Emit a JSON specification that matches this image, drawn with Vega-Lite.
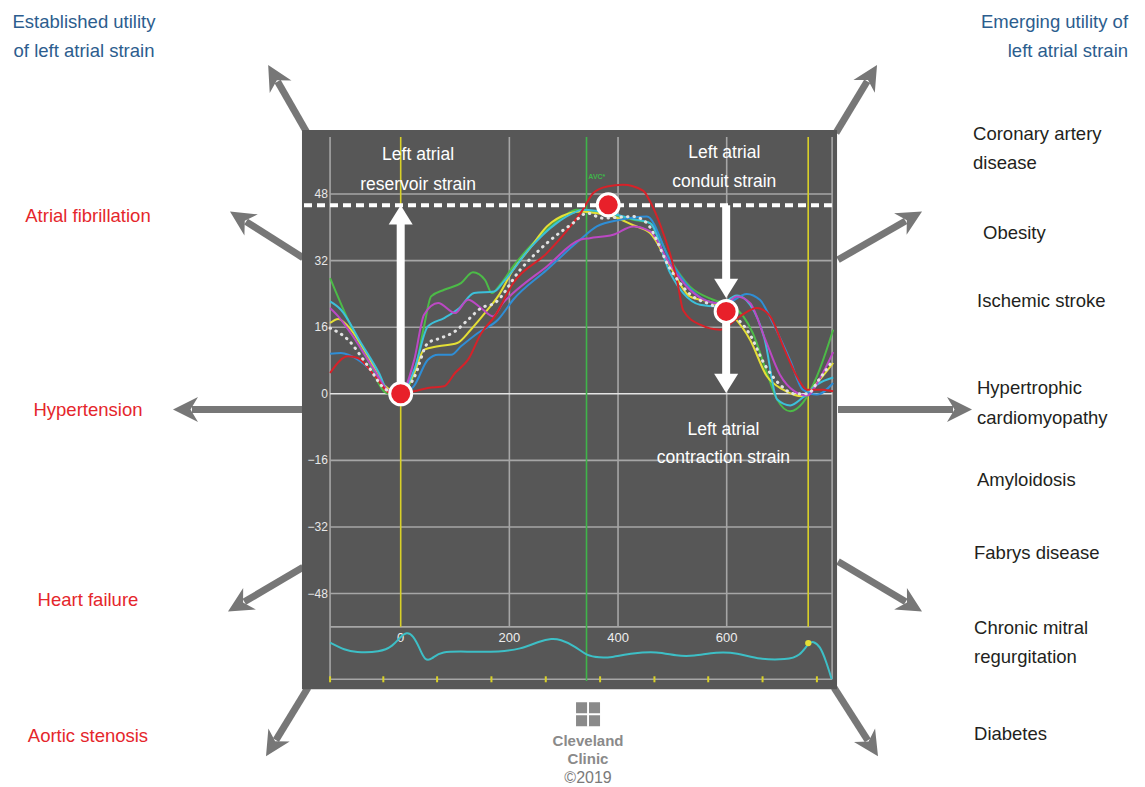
{
  "$schema": "https://vega.github.io/schema/vega-lite/v6.json",
  "width": 1145,
  "height": 787,
  "autosize": {"type": "fit", "contains": "padding"},
  "padding": 0,
  "background": "white",
  "config": {"view": {"stroke": null}},
  "resolve": {"scale": {"color": "independent"}},
  "datasets": {
    "panel": [{"x": -181.7, "x2": 803.1, "y": 63.4, "y2": -71.0}],
    "grid": [
      {"x": -130, "x2": 794, "y": 48, "y2": 48, "k": "g"},
      {"x": -130, "x2": 794, "y": 32, "y2": 32, "k": "g"},
      {"x": -130, "x2": 794, "y": 16, "y2": 16, "k": "g"},
      {"x": -130, "x2": 794, "y": -16, "y2": -16, "k": "g"},
      {"x": -130, "x2": 794, "y": -32, "y2": -32, "k": "g"},
      {"x": -130, "x2": 794, "y": -48, "y2": -48, "k": "g"},
      {"x": -130, "x2": 794, "y": -56, "y2": -56, "k": "g"},
      {"x": -130, "x2": 794, "y": -68.6, "y2": -68.6, "k": "g"},
      {"x": -130, "x2": -130, "y": 61.7, "y2": -68.6, "k": "g"},
      {"x": 200, "x2": 200, "y": 61.7, "y2": -56, "k": "g"},
      {"x": 400, "x2": 400, "y": 61.7, "y2": -56, "k": "g"},
      {"x": 600, "x2": 600, "y": 61.7, "y2": -56, "k": "g"},
      {"x": 794, "x2": 794, "y": 61.7, "y2": -68.6, "k": "g"},
      {"x": -130, "x2": 794, "y": 0, "y2": 0, "k": "z"},
      {"x": 0, "x2": 0, "y": 61.7, "y2": -56, "k": "yl"},
      {"x": 750, "x2": 750, "y": 61.7, "y2": -56, "k": "yl"},
      {"x": 342, "x2": 342, "y": 61.7, "y2": -69.0, "k": "gr"}
    ],
    "ylab": [
      {"x": -134, "y": 48, "t": "48"},
      {"x": -134, "y": 32, "t": "32"},
      {"x": -134, "y": 16, "t": "16"},
      {"x": -134, "y": 0, "t": "0"},
      {"x": -134, "y": -16, "t": "−16"},
      {"x": -134, "y": -32, "t": "−32"},
      {"x": -134, "y": -48, "t": "−48"}
    ],
    "xlab": [
      {"x": 0, "y": -58.7, "t": "0"},
      {"x": 200, "y": -58.7, "t": "200"},
      {"x": 400, "y": -58.7, "t": "400"},
      {"x": 600, "y": -58.7, "t": "600"}
    ],
    "curves": [
      {"s": "green", "x": -130, "y": 27.8}, {"s": "green", "x": -97, "y": 17.8}, {"s": "green", "x": -60, "y": 8}, {"s": "green", "x": -29, "y": 0.4}, {"s": "green", "x": -12, "y": -0.3}, {"s": "green", "x": 0, "y": 0}, {"s": "green", "x": 25, "y": 5}, {"s": "green", "x": 43, "y": 16.2}, {"s": "green", "x": 56, "y": 23.4}, {"s": "green", "x": 80, "y": 25}, {"s": "green", "x": 111, "y": 26.6}, {"s": "green", "x": 133, "y": 29.2}, {"s": "green", "x": 155, "y": 27.4}, {"s": "green", "x": 168, "y": 24.2}, {"s": "green", "x": 183, "y": 26.2}, {"s": "green", "x": 207, "y": 30.6}, {"s": "green", "x": 238, "y": 35.4}, {"s": "green", "x": 269, "y": 39.4}, {"s": "green", "x": 299, "y": 42.6}, {"s": "green", "x": 324, "y": 44.2}, {"s": "green", "x": 343, "y": 43.8}, {"s": "green", "x": 365, "y": 43.5}, {"s": "green", "x": 391, "y": 43}, {"s": "green", "x": 428, "y": 41.8}, {"s": "green", "x": 459, "y": 41}, {"s": "green", "x": 496, "y": 32.2}, {"s": "green", "x": 532, "y": 25.8}, {"s": "green", "x": 575, "y": 22.6}, {"s": "green", "x": 612, "y": 21}, {"s": "green", "x": 648, "y": 14.6}, {"s": "green", "x": 674, "y": 5}, {"s": "green", "x": 693, "y": -1.4}, {"s": "green", "x": 717, "y": -4.2}, {"s": "green", "x": 740, "y": -2.2}, {"s": "green", "x": 766, "y": 4.2}, {"s": "green", "x": 796, "y": 15.4},
      {"s": "yellow", "x": -130, "y": 17}, {"s": "yellow", "x": -115, "y": 18}, {"s": "yellow", "x": -97, "y": 16.2}, {"s": "yellow", "x": -60, "y": 9}, {"s": "yellow", "x": -30, "y": 2}, {"s": "yellow", "x": -10, "y": 0.3}, {"s": "yellow", "x": 0, "y": 0}, {"s": "yellow", "x": 25, "y": 5}, {"s": "yellow", "x": 43, "y": 10.6}, {"s": "yellow", "x": 69, "y": 11.4}, {"s": "yellow", "x": 104, "y": 12.2}, {"s": "yellow", "x": 129, "y": 15.4}, {"s": "yellow", "x": 160, "y": 20.2}, {"s": "yellow", "x": 179, "y": 23.4}, {"s": "yellow", "x": 207, "y": 29.8}, {"s": "yellow", "x": 238, "y": 35}, {"s": "yellow", "x": 269, "y": 40.2}, {"s": "yellow", "x": 311, "y": 43.4}, {"s": "yellow", "x": 330, "y": 43.8}, {"s": "yellow", "x": 365, "y": 43.3}, {"s": "yellow", "x": 391, "y": 42.6}, {"s": "yellow", "x": 428, "y": 40.5}, {"s": "yellow", "x": 459, "y": 38.6}, {"s": "yellow", "x": 496, "y": 30.6}, {"s": "yellow", "x": 532, "y": 23.4}, {"s": "yellow", "x": 575, "y": 21.8}, {"s": "yellow", "x": 612, "y": 18.6}, {"s": "yellow", "x": 643, "y": 13}, {"s": "yellow", "x": 674, "y": 4.2}, {"s": "yellow", "x": 704, "y": 1}, {"s": "yellow", "x": 740, "y": -0.6}, {"s": "yellow", "x": 766, "y": 2.6}, {"s": "yellow", "x": 796, "y": 7.4},
      {"s": "cyan", "x": -130, "y": 22.2}, {"s": "cyan", "x": -110, "y": 20.2}, {"s": "cyan", "x": -73, "y": 12.2}, {"s": "cyan", "x": -40, "y": 5}, {"s": "cyan", "x": -23, "y": 0.6}, {"s": "cyan", "x": 0, "y": 0}, {"s": "cyan", "x": 25, "y": 5.8}, {"s": "cyan", "x": 50, "y": 16.2}, {"s": "cyan", "x": 80, "y": 18.2}, {"s": "cyan", "x": 107, "y": 20.5}, {"s": "cyan", "x": 135, "y": 24.2}, {"s": "cyan", "x": 172, "y": 24.6}, {"s": "cyan", "x": 190, "y": 27}, {"s": "cyan", "x": 238, "y": 35}, {"s": "cyan", "x": 287, "y": 41}, {"s": "cyan", "x": 317, "y": 43.4}, {"s": "cyan", "x": 335, "y": 44.2}, {"s": "cyan", "x": 391, "y": 43.2}, {"s": "cyan", "x": 428, "y": 42}, {"s": "cyan", "x": 459, "y": 41}, {"s": "cyan", "x": 496, "y": 29}, {"s": "cyan", "x": 520, "y": 24.2}, {"s": "cyan", "x": 551, "y": 21.4}, {"s": "cyan", "x": 582, "y": 21}, {"s": "cyan", "x": 619, "y": 23.6}, {"s": "cyan", "x": 643, "y": 21.4}, {"s": "cyan", "x": 670, "y": 13}, {"s": "cyan", "x": 693, "y": -1.4}, {"s": "cyan", "x": 717, "y": -2.8}, {"s": "cyan", "x": 740, "y": -0.9}, {"s": "cyan", "x": 766, "y": 2.2}, {"s": "cyan", "x": 796, "y": 3.9},
      {"s": "blue", "x": -130, "y": 9.6}, {"s": "blue", "x": -110, "y": 9.8}, {"s": "blue", "x": -79, "y": 8.2}, {"s": "blue", "x": -47, "y": 4.5}, {"s": "blue", "x": -27, "y": 1}, {"s": "blue", "x": 0, "y": 0}, {"s": "blue", "x": 24, "y": 1.8}, {"s": "blue", "x": 50, "y": 8.2}, {"s": "blue", "x": 69, "y": 9.4}, {"s": "blue", "x": 93, "y": 9.4}, {"s": "blue", "x": 111, "y": 11.4}, {"s": "blue", "x": 142, "y": 14.6}, {"s": "blue", "x": 179, "y": 17.8}, {"s": "blue", "x": 207, "y": 22.6}, {"s": "blue", "x": 269, "y": 29.8}, {"s": "blue", "x": 330, "y": 37}, {"s": "blue", "x": 361, "y": 40.2}, {"s": "blue", "x": 404, "y": 41.8}, {"s": "blue", "x": 453, "y": 42.6}, {"s": "blue", "x": 496, "y": 32}, {"s": "blue", "x": 532, "y": 25.4}, {"s": "blue", "x": 571, "y": 22}, {"s": "blue", "x": 597, "y": 21.6}, {"s": "blue", "x": 637, "y": 24}, {"s": "blue", "x": 661, "y": 22.6}, {"s": "blue", "x": 685, "y": 17}, {"s": "blue", "x": 717, "y": 8}, {"s": "blue", "x": 740, "y": 1}, {"s": "blue", "x": 766, "y": -0.2}, {"s": "blue", "x": 796, "y": 2.6},
      {"s": "magenta", "x": -130, "y": 20.6}, {"s": "magenta", "x": -115, "y": 18.6}, {"s": "magenta", "x": -92, "y": 14.6}, {"s": "magenta", "x": -50, "y": 6}, {"s": "magenta", "x": -23, "y": 0.8}, {"s": "magenta", "x": 0, "y": 0}, {"s": "magenta", "x": 25, "y": 8.2}, {"s": "magenta", "x": 43, "y": 19}, {"s": "magenta", "x": 69, "y": 21.8}, {"s": "magenta", "x": 100, "y": 19.4}, {"s": "magenta", "x": 124, "y": 22.6}, {"s": "magenta", "x": 148, "y": 20.6}, {"s": "magenta", "x": 170, "y": 18.6}, {"s": "magenta", "x": 188, "y": 21.8}, {"s": "magenta", "x": 207, "y": 24.2}, {"s": "magenta", "x": 269, "y": 30.6}, {"s": "magenta", "x": 330, "y": 37}, {"s": "magenta", "x": 348, "y": 37.4}, {"s": "magenta", "x": 391, "y": 38.2}, {"s": "magenta", "x": 428, "y": 40.2}, {"s": "magenta", "x": 459, "y": 39}, {"s": "magenta", "x": 496, "y": 31}, {"s": "magenta", "x": 532, "y": 25}, {"s": "magenta", "x": 571, "y": 22}, {"s": "magenta", "x": 597, "y": 21.6}, {"s": "magenta", "x": 619, "y": 23.4}, {"s": "magenta", "x": 643, "y": 21.8}, {"s": "magenta", "x": 670, "y": 13.4}, {"s": "magenta", "x": 698, "y": 4.6}, {"s": "magenta", "x": 725, "y": 0.6}, {"s": "magenta", "x": 748, "y": -0.4}, {"s": "magenta", "x": 772, "y": 3.8}, {"s": "magenta", "x": 796, "y": 10},
      {"s": "red", "x": -130, "y": 5}, {"s": "red", "x": -97, "y": 9}, {"s": "red", "x": -79, "y": 8.6}, {"s": "red", "x": -47, "y": 4.2}, {"s": "red", "x": -20, "y": 0.2}, {"s": "red", "x": 0, "y": 0}, {"s": "red", "x": 25, "y": 0.6}, {"s": "red", "x": 50, "y": 1.4}, {"s": "red", "x": 80, "y": 1.8}, {"s": "red", "x": 100, "y": 5}, {"s": "red", "x": 124, "y": 8.2}, {"s": "red", "x": 148, "y": 14.5}, {"s": "red", "x": 173, "y": 18.6}, {"s": "red", "x": 207, "y": 26.6}, {"s": "red", "x": 269, "y": 33.8}, {"s": "red", "x": 317, "y": 41}, {"s": "red", "x": 335, "y": 44.2}, {"s": "red", "x": 354, "y": 48.2}, {"s": "red", "x": 380, "y": 49.8}, {"s": "red", "x": 409, "y": 50.2}, {"s": "red", "x": 446, "y": 48.8}, {"s": "red", "x": 459, "y": 46.2}, {"s": "red", "x": 478, "y": 40.5}, {"s": "red", "x": 496, "y": 33.5}, {"s": "red", "x": 509, "y": 27}, {"s": "red", "x": 520, "y": 20}, {"s": "red", "x": 551, "y": 16.6}, {"s": "red", "x": 588, "y": 15.4}, {"s": "red", "x": 624, "y": 18.6}, {"s": "red", "x": 656, "y": 20.6}, {"s": "red", "x": 680, "y": 18.6}, {"s": "red", "x": 704, "y": 11.4}, {"s": "red", "x": 729, "y": 4.2}, {"s": "red", "x": 748, "y": 1}, {"s": "red", "x": 777, "y": 1}, {"s": "red", "x": 796, "y": 0.6}
    ],
    "mean": [
      {"x": -130, "y": 15.8}, {"x": -97, "y": 13}, {"x": -60, "y": 6.6}, {"x": -27, "y": 1}, {"x": 0, "y": 0}, {"x": 25, "y": 4}, {"x": 50, "y": 12.2}, {"x": 74, "y": 13.4}, {"x": 100, "y": 15}, {"x": 124, "y": 17.8}, {"x": 148, "y": 20.6}, {"x": 173, "y": 21.8}, {"x": 220, "y": 29.8}, {"x": 269, "y": 36.2}, {"x": 317, "y": 41}, {"x": 343, "y": 43.4}, {"x": 372, "y": 42.2}, {"x": 428, "y": 42.6}, {"x": 453, "y": 41}, {"x": 496, "y": 30}, {"x": 532, "y": 24}, {"x": 571, "y": 21.4}, {"x": 611, "y": 19}, {"x": 643, "y": 14.2}, {"x": 670, "y": 7}, {"x": 698, "y": 2.2}, {"x": 725, "y": 0}, {"x": 748, "y": 0}, {"x": 772, "y": 3.8}, {"x": 796, "y": 8.2}
    ],
    "ecg": [
      {"x": -130.1, "y": -59.8}, {"x": -102.5, "y": -61.6}, {"x": -84.1, "y": -62.1}, {"x": -38.1, "y": -62.1}, {"x": -14.2, "y": -60.6}, {"x": -1.3, "y": -58.5}, {"x": 11, "y": -57.2}, {"x": 22.6, "y": -58}, {"x": 35.5, "y": -61.3}, {"x": 44.7, "y": -64.2}, {"x": 57.6, "y": -63.8}, {"x": 72.3, "y": -61.8}, {"x": 127.6, "y": -62}, {"x": 182.8, "y": -62}, {"x": 219.6, "y": -61.4}, {"x": 256.4, "y": -59.4}, {"x": 277.9, "y": -58.8}, {"x": 293.2, "y": -59}, {"x": 320.8, "y": -60.6}, {"x": 342.4, "y": -63}, {"x": 366.8, "y": -63.4}, {"x": 385.2, "y": -63.4}, {"x": 427.6, "y": -62.3}, {"x": 471.2, "y": -61.9}, {"x": 508, "y": -63}, {"x": 538, "y": -63.1}, {"x": 581.6, "y": -62}, {"x": 618.4, "y": -62.2}, {"x": 661.3, "y": -63.9}, {"x": 710.5, "y": -63.9}, {"x": 734.9, "y": -63}, {"x": 750.2, "y": -59.9}, {"x": 759.4, "y": -59.4}, {"x": 771.8, "y": -60.6}, {"x": 782.8, "y": -64.2}, {"x": 793.3, "y": -68.6}
    ],
    "ecgTicks": [
      {"x": -130, "y": -68.6}, {"x": -32, "y": -68.6}, {"x": 67, "y": -68.6}, {"x": 167, "y": -68.6}, {"x": 267, "y": -68.6}, {"x": 367, "y": -68.6}, {"x": 467, "y": -68.6}, {"x": 566, "y": -68.6}, {"x": 666, "y": -68.6}, {"x": 766, "y": -68.6}
    ],
    "dashed": [{"x": -178, "x2": 803, "y": 45.3}],
    "grayArrows": [
      {"x": -243.9, "y": 79.0, "x2": -172.5, "y2": 62.7},
      {"x": -314.2, "y": 43.8, "x2": -179.8, "y2": 32.7},
      {"x": -419.1, "y": -3.8, "x2": -179.8, "y2": -3.8},
      {"x": -317.9, "y": -52.3, "x2": -179.8, "y2": -41.7},
      {"x": -247.9, "y": -87.1, "x2": -170.6, "y2": -70.6},
      {"x": 876.7, "y": 79.0, "x2": 801.2, "y2": 62.7},
      {"x": 959.5, "y": 43.8, "x2": 804.9, "y2": 32.2},
      {"x": 1051.5, "y": -3.8, "x2": 804.9, "y2": -3.8},
      {"x": 959.5, "y": -52.3, "x2": 804.9, "y2": -40.3},
      {"x": 878.5, "y": -87.1, "x2": 797.6, "y2": -70.6}
    ],
    "whiteArrows": [
      {"x": 0, "y": 45.3, "x2": 0, "y2": 0},
      {"x": 599, "y": 23.0, "x2": 599, "y2": 45.3},
      {"x": 599, "y": 0.2, "x2": 599, "y2": 19.8}
    ],
    "circles": [{"x": 0, "y": 0}, {"x": 382, "y": 45.4}, {"x": 599, "y": 19.8}],
    "panelText": [
      {"x": 32, "y": 57.3, "t": "Left atrial"},
      {"x": 32, "y": 50.2, "t": "reservoir strain"},
      {"x": 595.6, "y": 57.8, "t": "Left atrial"},
      {"x": 595.6, "y": 51.0, "t": "conduit strain"},
      {"x": 594, "y": -8.6, "t": "Left atrial"},
      {"x": 594, "y": -15.4, "t": "contraction strain"}
    ],
    "outerCenter": [
      {"x": -582.9, "y": 89.4, "t": "Established utility", "c": "b"},
      {"x": -582.9, "y": 82.4, "t": "of left atrial strain", "c": "b"},
      {"x": -575.6, "y": 42.8, "t": "Atrial fibrillation", "c": "r"},
      {"x": -575.6, "y": -3.8, "t": "Hypertension", "c": "r"},
      {"x": -575.6, "y": -49.6, "t": "Heart failure", "c": "r"},
      {"x": -575.6, "y": -82.2, "t": "Aortic stenosis", "c": "r"}
    ],
    "outerRight": [
      {"x": 1338.7, "y": 89.4, "t": "Emerging utility of"},
      {"x": 1338.7, "y": 82.4, "t": "left atrial strain"}
    ],
    "outerLeft": [
      {"x": 1053.4, "y": 62.5, "t": "Coronary artery"},
      {"x": 1053.4, "y": 55.5, "t": "disease"},
      {"x": 1071.8, "y": 38.7, "t": "Obesity"},
      {"x": 1060.7, "y": 22.2, "t": "Ischemic stroke"},
      {"x": 1060.7, "y": 1.5, "t": "Hypertrophic"},
      {"x": 1060.7, "y": -5.7, "t": "cardiomyopathy"},
      {"x": 1060.7, "y": -20.6, "t": "Amyloidosis"},
      {"x": 1055.2, "y": -38.3, "t": "Fabrys disease"},
      {"x": 1055.2, "y": -56.3, "t": "Chronic mitral"},
      {"x": 1055.2, "y": -63.3, "t": "regurgitation"},
      {"x": 1055.2, "y": -81.8, "t": "Diabetes"}
    ],
    "logo": [{"x": 344.8, "y": -77.0}],
    "logoText": [
      {"x": 344.8, "y": -83.4, "t": "Cleveland"},
      {"x": 344.8, "y": -87.8, "t": "Clinic"}
    ],
    "copy": [{"x": 344.8, "y": -92.4, "t": "©2019"}],
    "avc": [{"x": 361, "y": 52.2, "t": "AVC*"}],
    "ecgDot": [{"x": 750.2, "y": -59.9}]
  },
  "layer": [
    {
      "data": {"name": "grayArrows"},
      "transform": [
        {"calculate": "(datum.x - datum.x2) / 1.8406", "as": "dxp"},
        {"calculate": "(datum.y - datum.y2) / 0.23998", "as": "dyp"},
        {"calculate": "sqrt(datum.dxp * datum.dxp + datum.dyp * datum.dyp)", "as": "len"},
        {"calculate": "atan2(datum.dxp, datum.dyp) * 180 / PI", "as": "ang"},
        {"calculate": "datum.x - (datum.x - datum.x2) * 19 / datum.len", "as": "sx"},
        {"calculate": "datum.y - (datum.y - datum.y2) * 19 / datum.len", "as": "sy"}
      ],
      "layer": [
        {
          "mark": {"type": "rule", "color": "#777777", "strokeWidth": 7},
          "encoding": {
            "x": {"field": "sx", "type": "quantitative", "scale": {"domain": [-737.5, 1369.9], "nice": false, "zero": false}, "axis": null},
            "y": {"field": "sy", "type": "quantitative", "scale": {"domain": [-94.24, 94.62], "nice": false, "zero": false}, "axis": null},
            "x2": {"field": "x2"},
            "y2": {"field": "y2"}
          }
        },
        {
          "mark": {"type": "point", "shape": "M0,0 L1,2 L0,1.4 L-1,2 Z", "filled": true, "color": "#777777", "opacity": 1, "size": 625},
          "encoding": {
            "x": {"field": "x", "type": "quantitative", "scale": {"domain": [-737.5, 1369.9], "nice": false, "zero": false}, "axis": null},
            "y": {"field": "y", "type": "quantitative", "scale": {"domain": [-94.24, 94.62], "nice": false, "zero": false}, "axis": null},
            "angle": {"field": "ang", "type": "quantitative", "scale": null}
          }
        }
      ]
    },
    {
      "data": {"name": "panel"},
      "mark": {"type": "rect", "color": "#575757"},
      "encoding": {
        "x": {"field": "x", "type": "quantitative", "scale": {"domain": [-737.5, 1369.9], "nice": false, "zero": false}, "axis": null},
        "y": {"field": "y", "type": "quantitative", "scale": {"domain": [-94.24, 94.62], "nice": false, "zero": false}, "axis": null},
        "x2": {"field": "x2"},
        "y2": {"field": "y2"}
      }
    },
    {
      "data": {"name": "grid"},
      "mark": {"type": "rule", "strokeWidth": 1.6},
      "encoding": {
        "x": {"field": "x", "type": "quantitative", "scale": {"domain": [-737.5, 1369.9], "nice": false, "zero": false}, "axis": null},
        "y": {"field": "y", "type": "quantitative", "scale": {"domain": [-94.24, 94.62], "nice": false, "zero": false}, "axis": null},
        "x2": {"field": "x2"},
        "y2": {"field": "y2"},
        "color": {"field": "k", "type": "nominal", "scale": {"domain": ["g", "z", "yl", "gr"], "range": ["#a6a6a6", "#e4e4e4", "#d8d028", "#3fb44a"]}, "legend": null}
      }
    },
    {
      "data": {"name": "ylab"},
      "mark": {"type": "text", "align": "right", "baseline": "middle", "fontSize": 12, "font": "Liberation Sans", "color": "#e8e8e8"},
      "encoding": {
        "x": {"field": "x", "type": "quantitative", "scale": {"domain": [-737.5, 1369.9], "nice": false, "zero": false}, "axis": null},
        "y": {"field": "y", "type": "quantitative", "scale": {"domain": [-94.24, 94.62], "nice": false, "zero": false}, "axis": null},
        "text": {"field": "t"}
      }
    },
    {
      "data": {"name": "xlab"},
      "mark": {"type": "text", "align": "center", "baseline": "middle", "fontSize": 13, "font": "Liberation Sans", "color": "#eeeeee"},
      "encoding": {
        "x": {"field": "x", "type": "quantitative", "scale": {"domain": [-737.5, 1369.9], "nice": false, "zero": false}, "axis": null},
        "y": {"field": "y", "type": "quantitative", "scale": {"domain": [-94.24, 94.62], "nice": false, "zero": false}, "axis": null},
        "text": {"field": "t"}
      }
    },
    {
      "data": {"name": "avc"},
      "mark": {"type": "text", "align": "center", "baseline": "middle", "fontSize": 7, "fontWeight": "bold", "font": "Liberation Sans", "color": "#3fb44a"},
      "encoding": {
        "x": {"field": "x", "type": "quantitative", "scale": {"domain": [-737.5, 1369.9], "nice": false, "zero": false}, "axis": null},
        "y": {"field": "y", "type": "quantitative", "scale": {"domain": [-94.24, 94.62], "nice": false, "zero": false}, "axis": null},
        "text": {"field": "t"}
      }
    },
    {
      "data": {"name": "curves"},
      "mark": {"type": "line", "strokeWidth": 2, "interpolate": "monotone"},
      "encoding": {
        "x": {"field": "x", "type": "quantitative", "scale": {"domain": [-737.5, 1369.9], "nice": false, "zero": false}, "axis": null},
        "y": {"field": "y", "type": "quantitative", "scale": {"domain": [-94.24, 94.62], "nice": false, "zero": false}, "axis": null},
        "color": {"field": "s", "type": "nominal", "scale": {"domain": ["blue", "cyan", "magenta", "green", "yellow", "red"], "range": ["#2f8ed6", "#3cc0da", "#bc48c4", "#4cbb47", "#e4df35", "#d62229"]}, "legend": null},
        "order": {"field": "x", "type": "quantitative"}
      }
    },
    {
      "data": {"name": "mean"},
      "mark": {"type": "line", "strokeWidth": 3, "strokeDash": [0.5, 6], "strokeCap": "round", "color": "#e2e2e2", "interpolate": "monotone"},
      "encoding": {
        "x": {"field": "x", "type": "quantitative", "scale": {"domain": [-737.5, 1369.9], "nice": false, "zero": false}, "axis": null},
        "y": {"field": "y", "type": "quantitative", "scale": {"domain": [-94.24, 94.62], "nice": false, "zero": false}, "axis": null}
      }
    },
    {
      "data": {"name": "dashed"},
      "mark": {"type": "rule", "color": "white", "strokeWidth": 4, "strokeDash": [8, 5]},
      "encoding": {
        "x": {"field": "x", "type": "quantitative", "scale": {"domain": [-737.5, 1369.9], "nice": false, "zero": false}, "axis": null},
        "y": {"field": "y", "type": "quantitative", "scale": {"domain": [-94.24, 94.62], "nice": false, "zero": false}, "axis": null},
        "x2": {"field": "x2"}
      }
    },
    {
      "data": {"name": "ecg"},
      "mark": {"type": "line", "strokeWidth": 2, "color": "#3dbfc6", "interpolate": "basis"},
      "encoding": {
        "x": {"field": "x", "type": "quantitative", "scale": {"domain": [-737.5, 1369.9], "nice": false, "zero": false}, "axis": null},
        "y": {"field": "y", "type": "quantitative", "scale": {"domain": [-94.24, 94.62], "nice": false, "zero": false}, "axis": null}
      }
    },
    {
      "data": {"name": "ecgTicks"},
      "mark": {"type": "tick", "orient": "vertical", "size": 6, "thickness": 2, "color": "#d8d028", "opacity": 1},
      "encoding": {
        "x": {"field": "x", "type": "quantitative", "scale": {"domain": [-737.5, 1369.9], "nice": false, "zero": false}, "axis": null},
        "y": {"field": "y", "type": "quantitative", "scale": {"domain": [-94.24, 94.62], "nice": false, "zero": false}, "axis": null}
      }
    },
    {
      "data": {"name": "ecgDot"},
      "mark": {"type": "point", "filled": true, "color": "#e4df35", "opacity": 1, "size": 40},
      "encoding": {
        "x": {"field": "x", "type": "quantitative", "scale": {"domain": [-737.5, 1369.9], "nice": false, "zero": false}, "axis": null},
        "y": {"field": "y", "type": "quantitative", "scale": {"domain": [-94.24, 94.62], "nice": false, "zero": false}, "axis": null}
      }
    },
    {
      "data": {"name": "whiteArrows"},
      "transform": [
        {"calculate": "(datum.x - datum.x2) / 1.8406", "as": "dxp"},
        {"calculate": "(datum.y - datum.y2) / 0.23998", "as": "dyp"},
        {"calculate": "sqrt(datum.dxp * datum.dxp + datum.dyp * datum.dyp)", "as": "len"},
        {"calculate": "atan2(datum.dxp, datum.dyp) * 180 / PI", "as": "ang"},
        {"calculate": "datum.x - (datum.x - datum.x2) * 17 / datum.len", "as": "sx"},
        {"calculate": "datum.y - (datum.y - datum.y2) * 17 / datum.len", "as": "sy"}
      ],
      "layer": [
        {
          "mark": {"type": "rule", "color": "white", "strokeWidth": 8},
          "encoding": {
            "x": {"field": "sx", "type": "quantitative", "scale": {"domain": [-737.5, 1369.9], "nice": false, "zero": false}, "axis": null},
            "y": {"field": "sy", "type": "quantitative", "scale": {"domain": [-94.24, 94.62], "nice": false, "zero": false}, "axis": null},
            "x2": {"field": "x2"},
            "y2": {"field": "y2"}
          }
        },
        {
          "mark": {"type": "point", "shape": "M0,0 L1,1.6 L-1,1.6 Z", "filled": true, "color": "white", "opacity": 1, "size": 576},
          "encoding": {
            "x": {"field": "x", "type": "quantitative", "scale": {"domain": [-737.5, 1369.9], "nice": false, "zero": false}, "axis": null},
            "y": {"field": "y", "type": "quantitative", "scale": {"domain": [-94.24, 94.62], "nice": false, "zero": false}, "axis": null},
            "angle": {"field": "ang", "type": "quantitative", "scale": null}
          }
        }
      ]
    },
    {
      "data": {"name": "circles"},
      "mark": {"type": "point", "shape": "circle", "filled": true, "fill": "#e8202a", "stroke": "white", "strokeWidth": 3, "opacity": 1, "size": 484},
      "encoding": {
        "x": {"field": "x", "type": "quantitative", "scale": {"domain": [-737.5, 1369.9], "nice": false, "zero": false}, "axis": null},
        "y": {"field": "y", "type": "quantitative", "scale": {"domain": [-94.24, 94.62], "nice": false, "zero": false}, "axis": null}
      }
    },
    {
      "data": {"name": "panelText"},
      "mark": {"type": "text", "align": "center", "baseline": "middle", "fontSize": 17.5, "font": "Liberation Sans", "color": "white"},
      "encoding": {
        "x": {"field": "x", "type": "quantitative", "scale": {"domain": [-737.5, 1369.9], "nice": false, "zero": false}, "axis": null},
        "y": {"field": "y", "type": "quantitative", "scale": {"domain": [-94.24, 94.62], "nice": false, "zero": false}, "axis": null},
        "text": {"field": "t"}
      }
    },
    {
      "data": {"name": "outerCenter"},
      "mark": {"type": "text", "align": "center", "baseline": "middle", "fontSize": 18.5, "font": "Liberation Sans"},
      "encoding": {
        "x": {"field": "x", "type": "quantitative", "scale": {"domain": [-737.5, 1369.9], "nice": false, "zero": false}, "axis": null},
        "y": {"field": "y", "type": "quantitative", "scale": {"domain": [-94.24, 94.62], "nice": false, "zero": false}, "axis": null},
        "text": {"field": "t"},
        "color": {"field": "c", "type": "nominal", "scale": {"domain": ["b", "r"], "range": ["#2c5d8e", "#e5262b"]}, "legend": null}
      }
    },
    {
      "data": {"name": "outerRight"},
      "mark": {"type": "text", "align": "right", "baseline": "middle", "fontSize": 18.5, "font": "Liberation Sans", "color": "#2c5d8e"},
      "encoding": {
        "x": {"field": "x", "type": "quantitative", "scale": {"domain": [-737.5, 1369.9], "nice": false, "zero": false}, "axis": null},
        "y": {"field": "y", "type": "quantitative", "scale": {"domain": [-94.24, 94.62], "nice": false, "zero": false}, "axis": null},
        "text": {"field": "t"}
      }
    },
    {
      "data": {"name": "outerLeft"},
      "mark": {"type": "text", "align": "left", "baseline": "middle", "fontSize": 18.5, "font": "Liberation Sans", "color": "#231f20"},
      "encoding": {
        "x": {"field": "x", "type": "quantitative", "scale": {"domain": [-737.5, 1369.9], "nice": false, "zero": false}, "axis": null},
        "y": {"field": "y", "type": "quantitative", "scale": {"domain": [-94.24, 94.62], "nice": false, "zero": false}, "axis": null},
        "text": {"field": "t"}
      }
    },
    {
      "data": {"name": "logo"},
      "layer": [
        {
          "mark": {"type": "point", "shape": "square", "filled": true, "color": "#8a8a8a", "opacity": 1, "size": 576},
          "encoding": {
            "x": {"field": "x", "type": "quantitative", "scale": {"domain": [-737.5, 1369.9], "nice": false, "zero": false}, "axis": null},
            "y": {"field": "y", "type": "quantitative", "scale": {"domain": [-94.24, 94.62], "nice": false, "zero": false}, "axis": null}
          }
        },
        {
          "mark": {"type": "point", "shape": "M-0.08,-1.05 L0.08,-1.05 L0.08,1.05 L-0.08,1.05 Z M-1.05,-0.08 L1.05,-0.08 L1.05,0.08 L-1.05,0.08 Z", "filled": true, "color": "white", "opacity": 1, "size": 576},
          "encoding": {
            "x": {"field": "x", "type": "quantitative", "scale": {"domain": [-737.5, 1369.9], "nice": false, "zero": false}, "axis": null},
            "y": {"field": "y", "type": "quantitative", "scale": {"domain": [-94.24, 94.62], "nice": false, "zero": false}, "axis": null}
          }
        }
      ]
    },
    {
      "data": {"name": "logoText"},
      "mark": {"type": "text", "align": "center", "baseline": "middle", "fontSize": 15, "fontWeight": "bold", "font": "Liberation Sans", "color": "#8a8a8a"},
      "encoding": {
        "x": {"field": "x", "type": "quantitative", "scale": {"domain": [-737.5, 1369.9], "nice": false, "zero": false}, "axis": null},
        "y": {"field": "y", "type": "quantitative", "scale": {"domain": [-94.24, 94.62], "nice": false, "zero": false}, "axis": null},
        "text": {"field": "t"}
      }
    },
    {
      "data": {"name": "copy"},
      "mark": {"type": "text", "align": "center", "baseline": "middle", "fontSize": 16, "font": "Liberation Sans", "color": "#7a7a7a"},
      "encoding": {
        "x": {"field": "x", "type": "quantitative", "scale": {"domain": [-737.5, 1369.9], "nice": false, "zero": false}, "axis": null},
        "y": {"field": "y", "type": "quantitative", "scale": {"domain": [-94.24, 94.62], "nice": false, "zero": false}, "axis": null},
        "text": {"field": "t"}
      }
    }
  ]
}
